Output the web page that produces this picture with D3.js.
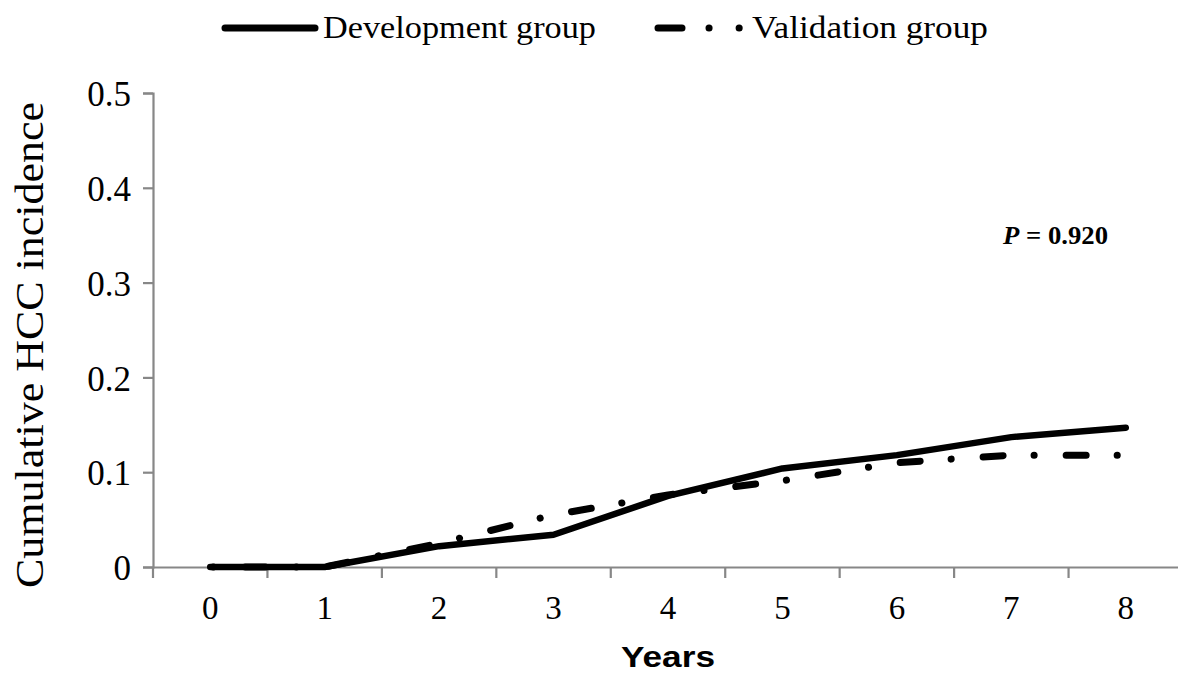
<!DOCTYPE html>
<html>
<head>
<meta charset="utf-8">
<script src="https://cdn.jsdelivr.net/npm/d3@7"></script>
<style>
  html, body { margin: 0; padding: 0; background: #fff; }
  svg { display: block; }
</style>
</head>
<body>
<svg id="chart" width="1178" height="673"></svg>
<script>
const years = ["0", "1", "2", "3", "4", "5", "6", "7", "8"];
const development = [0, 0, 0.022, 0.034, 0.075, 0.104, 0.118, 0.137, 0.147];
const validation = [0, 0, 0.025, 0.055, 0.076, 0.091, 0.110, 0.118, 0.118];
const yTicks = [0, 0.1, 0.2, 0.3, 0.4, 0.5];
const seriesNames = ["Development group", "Validation group"];
const pLabel = "0.920";

const svg = d3.select("#chart");
const axisColor = "#878787";
const serif = "'Liberation Serif', 'Times New Roman', serif";

const x = d3.scaleBand().domain(years).range([153, 1183]).paddingInner(0).paddingOuter(0);
const y = d3.scaleLinear().domain([0, 0.5]).range([567, 93]);
const cx = d => x(d) + x.bandwidth() / 2;

// Y axis
const yAxis = svg.append("g").attr("transform", "translate(153,0)")
  .call(d3.axisLeft(y).tickValues(yTicks).tickSize(10).tickPadding(12)
    .tickFormat(d => d === 0 ? "0" : d3.format(".1f")(d)));
yAxis.attr("font-family", serif).attr("font-size", 35);
yAxis.select(".domain").attr("stroke", axisColor).attr("stroke-width", 2.2);
yAxis.selectAll(".tick line").attr("stroke", axisColor).attr("stroke-width", 2.2);
yAxis.selectAll(".tick text").attr("fill", "#000").attr("dy", "0.36em");

// X axis (labels at band centres, ticks at band boundaries)
const xAxis = svg.append("g").attr("transform", "translate(0,567)")
  .call(d3.axisBottom(x).tickSize(0).tickPadding(29));
xAxis.attr("font-family", serif).attr("font-size", 33);
xAxis.select(".domain").attr("stroke", axisColor).attr("stroke-width", 2.2);
xAxis.selectAll(".tick text").attr("fill", "#000");
const boundaries = years.map(d => x(d)).concat([x(years[years.length - 1]) + x.bandwidth()]);
xAxis.selectAll(".bt").data(boundaries).enter().append("line")
  .attr("x1", d => d).attr("x2", d => d).attr("y1", 0).attr("y2", 11)
  .attr("stroke", axisColor).attr("stroke-width", 2.2);

// Axis titles
svg.append("text").attr("transform", "translate(43,345) rotate(-90)")
  .attr("text-anchor", "middle").attr("font-family", serif).attr("font-size", 39)
  .attr("textLength", 486).attr("lengthAdjust", "spacingAndGlyphs")
  .text("Cumulative HCC incidence");
svg.append("text").attr("x", 621).attr("y", 667)
  .attr("font-family", "'Liberation Sans', Arial, sans-serif").attr("font-weight", "bold")
  .attr("font-size", 30).attr("textLength", 94).attr("lengthAdjust", "spacingAndGlyphs")
  .text("Years");

// Lines
const line = d3.line().x((d, i) => cx(years[i])).y(d => y(d));
svg.append("path").datum(validation).attr("d", line)
  .attr("fill", "none").attr("stroke", "#000").attr("stroke-width", 7)
  .attr("stroke-linecap", "round").attr("stroke-linejoin", "round")
  .attr("stroke-dasharray", "20,31,0.1,32").attr("stroke-dashoffset", 48);
svg.append("path").datum(development).attr("d", line)
  .attr("fill", "none").attr("stroke", "#000").attr("stroke-width", 6.5)
  .attr("stroke-linecap", "round").attr("stroke-linejoin", "round");

// P value
const pt = svg.append("text").attr("x", 1003).attr("y", 244)
  .attr("font-family", serif).attr("font-weight", "bold").attr("font-size", 25)
  .attr("textLength", 105).attr("lengthAdjust", "spacingAndGlyphs");
pt.append("tspan").attr("font-style", "italic").text("P");
pt.append("tspan").text(" = " + pLabel);

// Legend
const lg = svg.append("g");
lg.append("line").attr("x1", 225).attr("x2", 315).attr("y1", 28).attr("y2", 28)
  .attr("stroke", "#000").attr("stroke-width", 7).attr("stroke-linecap", "round");
lg.append("text").attr("x", 323).attr("y", 38).attr("font-family", serif).attr("font-size", 32)
  .attr("textLength", 273).attr("lengthAdjust", "spacingAndGlyphs")
  .text(seriesNames[0]);
lg.append("line").attr("x1", 658).attr("x2", 742).attr("y1", 28).attr("y2", 28)
  .attr("stroke", "#000").attr("stroke-width", 7).attr("stroke-linecap", "round")
  .attr("stroke-dasharray", "24,27,0.1,30,0.1,30");
lg.append("text").attr("x", 752).attr("y", 38).attr("font-family", serif).attr("font-size", 32)
  .attr("textLength", 236).attr("lengthAdjust", "spacingAndGlyphs")
  .text(seriesNames[1]);
</script>
</body>
</html>
